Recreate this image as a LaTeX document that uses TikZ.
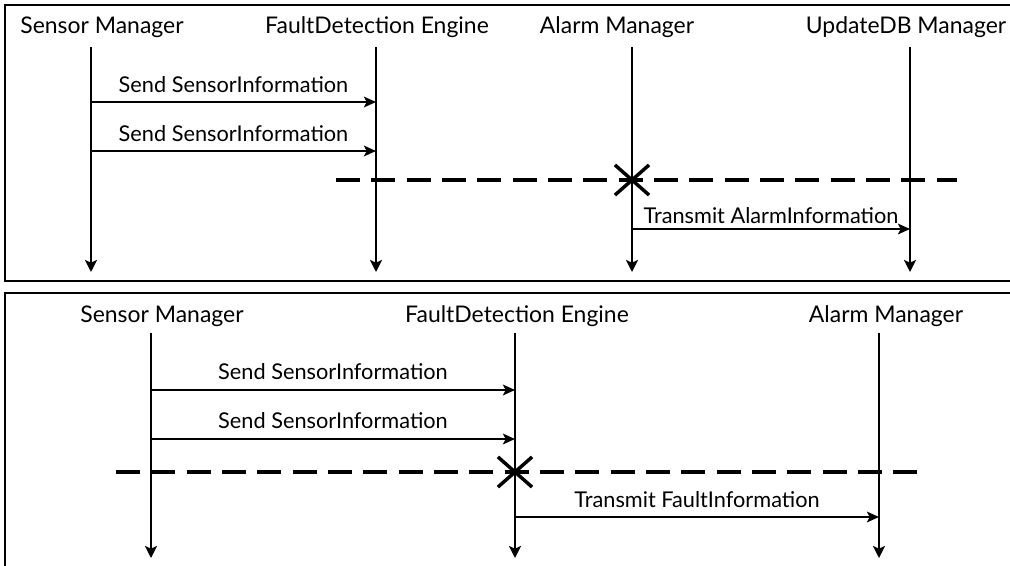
\documentclass[tikz,border=0pt]{standalone}
\usepackage{fontspec}
\setmainfont{Lato}
\usetikzlibrary{arrows.meta,shapes.misc}
\begin{document}
\begin{tikzpicture}[x=0.75pt,y=-0.75pt,
  panel/.style={line width=2.2pt},
  actor/.style={font=\fontsize{17.2}{19}\selectfont, inner sep=0pt, anchor=center},
  lifeline/.style={line width=1.8pt,-{Stealth[length=9pt,width=9pt,inset=2pt]}},
  msg/.style={line width=1.5pt,-{Stealth[length=9pt,width=8pt,inset=2pt]}},
  msglabel/.style={font=\fontsize{16.3}{18}\selectfont, inner sep=0pt, anchor=base},
  cut/.style={line width=2.5pt, dash pattern=on 18pt off 8.5pt},
  kill/.style={cross out, draw, line width=2.6pt, inner sep=0pt, minimum width=23pt, minimum height=20pt}]
\useasboundingbox (0,0) rectangle (1010,565);
\clip (0,0) rectangle (1010,565);
\fill[white] (0,0) rectangle (1010,565);

% ---- upper scenario ----
\draw[panel] (5,5) rectangle (1020,281);
\node[actor] (sm) at (102,27) {Sensor Manager};
\node[actor] (fd) at (377,27) {FaultDetection Engine};
\node[actor] (am) at (617,27) {Alarm Manager};
\node[actor] (ub) at (906,27) {UpdateDB Manager};

\coordinate (smT) at (91,47);   \coordinate (smB) at (91,272);
\coordinate (fdT) at (376,47);  \coordinate (fdB) at (376,272);
\coordinate (amT) at (632,47);  \coordinate (amB) at (632,272);
\coordinate (ubT) at (910,47);  \coordinate (ubB) at (910,272);
\draw[lifeline] (smT) -- (smB);
\draw[lifeline] (fdT) -- (fdB);
\draw[lifeline] (amT) -- (amB);
\draw[lifeline] (ubT) -- (ubB);

\coordinate (s1a) at (91,102);  \coordinate (s1b) at (376,102);
\coordinate (s2a) at (91,151);  \coordinate (s2b) at (376,151);
\draw[msg] (s1a) -- node[msglabel, yshift=7.5pt] {Send SensorInformation} (s1b);
\draw[msg] (s2a) -- node[msglabel, yshift=7.5pt] {Send SensorInformation} (s2b);

\coordinate (c1a) at (336,180); \coordinate (c1b) at (957,180);
\draw[cut] (c1a) -- (c1b);
\node[kill] (x1) at (632,180) {};

\coordinate (t1a) at (632,229); \coordinate (t1b) at (910,229);
\draw[msg] (t1a) -- node[msglabel, yshift=4.5pt] {Transmit AlarmInformation} (t1b);

% ---- lower scenario ----
\draw[panel] (5,293) rectangle (1020,575);
\node[actor] (sm2) at (162,316) {Sensor Manager};
\node[actor] (fd2) at (517,316) {FaultDetection Engine};
\node[actor] (am2) at (886,316) {Alarm Manager};

\coordinate (sm2T) at (151,333); \coordinate (sm2B) at (151,558);
\coordinate (fd2T) at (515,333); \coordinate (fd2B) at (515,558);
\coordinate (am2T) at (879,333); \coordinate (am2B) at (879,558);
\draw[lifeline] (sm2T) -- (sm2B);
\draw[lifeline] (fd2T) -- (fd2B);
\draw[lifeline] (am2T) -- (am2B);

\coordinate (r1a) at (151,390); \coordinate (r1b) at (515,390);
\coordinate (r2a) at (151,439); \coordinate (r2b) at (515,439);
\draw[msg] (r1a) -- node[msglabel, yshift=8pt] {Send SensorInformation} (r1b);
\draw[msg] (r2a) -- node[msglabel, yshift=8pt] {Send SensorInformation} (r2b);

\coordinate (c2a) at (116,472); \coordinate (c2b) at (918,472);
\draw[cut] (c2a) -- (c2b);
\node[kill] (x2) at (515,472) {};

\coordinate (t2a) at (515,517); \coordinate (t2b) at (879,517);
\draw[msg] (t2a) -- node[msglabel, yshift=7pt] {Transmit FaultInformation} (t2b);
\end{tikzpicture}
\end{document}
